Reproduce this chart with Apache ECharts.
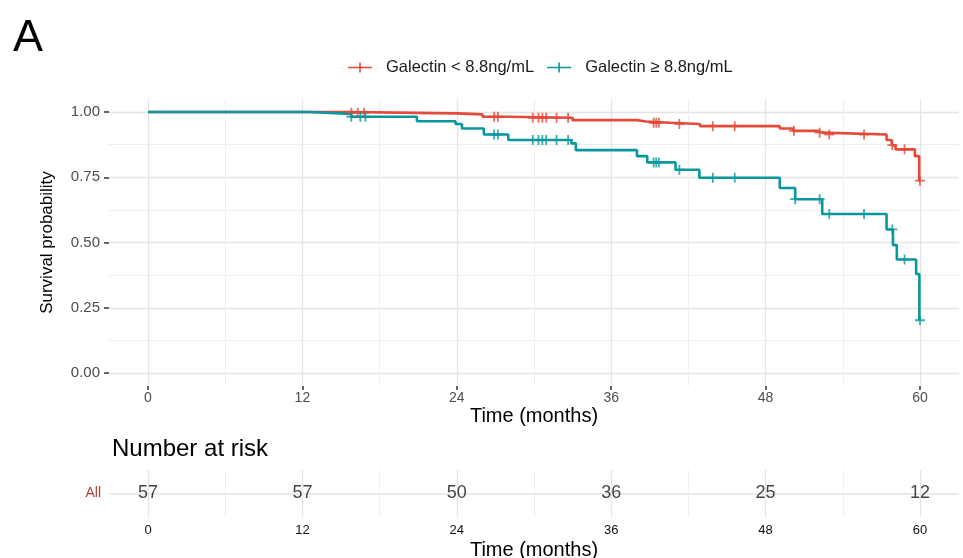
<!DOCTYPE html>
<html><head><meta charset="utf-8">
<script src="https://cdn.jsdelivr.net/npm/echarts@6/dist/echarts.min.js"></script>
<style>html,body{margin:0;padding:0;background:#fff}#c{width:963px;height:558px}</style>
</head><body><div id="c"></div>
<script>
const groupNames = ['Galectin < 8.8ng/mL', 'Galectin \u2265 8.8ng/mL'];
const groupColors = ['#E4493B', '#0A979D'];

// Kaplan-Meier step points (time in months, survival probability)
const lowTimes = [0, 15.7, 20.9, 24.0, 26.0, 28.0, 33.0, 38.0, 38.7, 40.6, 42.9, 49.1, 50.15, 52.1, 52.4, 57.4, 57.8, 58.1, 59.6, 59.94, 60];
const lowSurv  = [1.0, 0.997, 0.995, 0.991, 0.982, 0.978, 0.969, 0.964, 0.959, 0.954, 0.946, 0.937, 0.928, 0.921, 0.914, 0.893, 0.873, 0.857, 0.831, 0.737, 0.737];
const highTimes = [0, 12.46, 15.8, 20.9, 23.9, 24.4, 26.1, 28.0, 32.9, 33.25, 38.0, 38.8, 41.0, 42.85, 49.1, 50.3, 52.4, 57.4, 57.9, 58.2, 59.7, 59.95, 60];
const highSurv  = [1.0, 0.993, 0.982, 0.965, 0.954, 0.937, 0.914, 0.893, 0.880, 0.854, 0.831, 0.807, 0.779, 0.748, 0.709, 0.666, 0.609, 0.550, 0.490, 0.435, 0.379, 0.202, 0.202];

// censoring times
const lowCensor  = [15.8, 16.3, 16.8, 26.9, 27.2, 29.9, 30.35, 30.65, 30.95, 31.75, 32.65, 39.3, 39.5, 39.7, 41.3, 43.9, 45.6, 50.2, 52.2, 52.95, 55.65, 57.85, 58.8, 60];
const highCensor = [15.8, 16.5, 16.9, 26.9, 27.2, 29.9, 30.35, 30.65, 30.95, 31.75, 32.65, 39.3, 39.5, 39.7, 41.3, 43.9, 45.6, 50.3, 52.2, 52.95, 55.65, 57.85, 58.8, 60];

// axis ticks
const timeTicks = [0, 12, 24, 36, 48, 60];
const survTicks = [0, 0.25, 0.5, 0.75, 1];

// number at risk
const riskLabel = 'All';
const riskTimes = [0, 12, 24, 36, 48, 60];
const riskCounts = [57, 57, 50, 36, 25, 12];

function stepAt(times, surv, t) {
  let v = surv[0];
  for (let i = 0; i < times.length; i++) { if (times[i] <= t) v = surv[i]; }
  return v;
}
const FONT = 'Liberation Sans, Arial, Helvetica, sans-serif';
const plusPath = 'path://M-1,-0.18H1V0.18H-1Z M-0.18,-1H0.18V1H-0.18Z';
const legendIcon = 'path://M0,4.2H24V5.8H0Z M11.2,0H12.8V10H11.2Z';
const gridMajor = { color: '#e4e4e4', width: 1.3 };
const gridMinor = { color: '#eeeeee', width: 1 };

const chart = echarts.init(document.getElementById('c'));
chart.setOption({
  backgroundColor: '#fff',
  animation: false,
  textStyle: { fontFamily: FONT },
  title: [
    { text: 'A', left: 8, top: 11, textStyle: { fontSize: 45, fontWeight: 'normal', color: '#000', fontFamily: FONT } },
    { text: 'Number at risk', left: 107, top: 432, textStyle: { fontSize: 24, fontWeight: 'normal', color: '#000', fontFamily: FONT } }
  ],
  legend: {
    left: 343, top: 54, itemWidth: 24, itemHeight: 10, itemGap: 13,
    data: [
      { name: groupNames[0], icon: legendIcon },
      { name: groupNames[1], icon: legendIcon }
    ],
    textStyle: { fontSize: 16.5, color: '#1a1a1a', fontFamily: FONT, padding: [0, 0, 0, 9] }
  },
  grid: [
    { left: 148, width: 772, top: 99, height: 287, outerBoundsMode: 'none', containLabel: false },
    { left: 109, width: 850, top: 112, height: 261, outerBoundsMode: 'none', containLabel: false },
    { left: 148, width: 772, top: 470, height: 47, outerBoundsMode: 'none', containLabel: false },
    { left: 109, width: 850, top: 470, height: 47, outerBoundsMode: 'none', containLabel: false }
  ],
  xAxis: [
    { type: 'value', gridIndex: 0, min: timeTicks[0], max: timeTicks[timeTicks.length - 1], interval: 12,
      axisLine: { show: false, onZero: false },
      axisTick: { show: true, length: 4, lineStyle: { color: '#333', width: 1.5 } },
      axisLabel: { fontSize: 14, color: '#4d4d4d', margin: 5, fontFamily: FONT },
      splitLine: { show: true, lineStyle: gridMajor },
      minorTick: { show: false, splitNumber: 2 },
      minorSplitLine: { show: true, lineStyle: gridMinor },
      name: 'Time (months)', nameLocation: 'middle', nameGap: 20, nameMoveOverlap: false,
      nameTextStyle: { fontSize: 20, color: '#000', fontFamily: FONT } },
    { type: 'value', gridIndex: 1, min: 0, max: 1, show: false },
    { type: 'value', gridIndex: 2, min: timeTicks[0], max: timeTicks[timeTicks.length - 1], interval: 12,
      axisLine: { show: false, onZero: false },
      axisTick: { show: false },
      axisLabel: { fontSize: 13, color: '#111', margin: 7, fontFamily: FONT },
      splitLine: { show: true, lineStyle: gridMajor },
      minorTick: { show: false, splitNumber: 2 },
      minorSplitLine: { show: true, lineStyle: gridMinor },
      name: 'Time (months)', nameLocation: 'middle', nameGap: 23, nameMoveOverlap: false,
      nameTextStyle: { fontSize: 20, color: '#000', fontFamily: FONT } },
    { type: 'value', gridIndex: 3, min: 0, max: 1, show: false }
  ],
  yAxis: [
    { type: 'value', gridIndex: 0, min: -0.05, max: 1.05, show: false },
    { type: 'value', gridIndex: 1, min: survTicks[0], max: survTicks[survTicks.length - 1], interval: 0.25,
      axisLine: { show: false, onZero: false },
      axisTick: { show: true, length: 5, lineStyle: { color: '#333', width: 1.5 } },
      axisLabel: { fontSize: 15, color: '#4d4d4d', margin: 9, fontFamily: FONT, formatter: v => v.toFixed(2) },
      splitLine: { show: true, lineStyle: gridMajor },
      minorTick: { show: false, splitNumber: 2 },
      minorSplitLine: { show: true, lineStyle: gridMinor },
      name: 'Survival probability', nameLocation: 'middle', nameGap: 53, nameRotate: 90,
      nameTextStyle: { fontSize: 17, color: '#000', fontFamily: FONT } },
    { type: 'value', gridIndex: 2, min: -1, max: 1, show: false },
    { type: 'value', gridIndex: 3, min: -1, max: 1, interval: 1,
      axisLine: { show: false, onZero: false }, axisTick: { show: false },
      axisLabel: { fontSize: 14, color: '#B23A2E', margin: 8, fontFamily: FONT, formatter: v => (v === 0 ? riskLabel : '') },
      splitLine: { show: true, lineStyle: { color: ['rgba(0,0,0,0)', '#e4e4e4', 'rgba(0,0,0,0)'], width: 1.5 } } }
  ],
  series: [
    { name: groupNames[0], type: 'line', xAxisIndex: 0, yAxisIndex: 0, step: 'end', showSymbol: false, symbol: 'none',
      clip: false, color: groupColors[0], lineStyle: { color: groupColors[0], width: 2.6 },
      data: lowTimes.map((t, i) => [t, lowSurv[i]]) },
    { name: groupNames[1], type: 'line', xAxisIndex: 0, yAxisIndex: 0, step: 'end', showSymbol: false, symbol: 'none',
      clip: false, color: groupColors[1], lineStyle: { color: groupColors[1], width: 2.6 },
      data: highTimes.map((t, i) => [t, highSurv[i]]) },
    { name: 'censorLow', type: 'scatter', xAxisIndex: 0, yAxisIndex: 0, clip: false,
      symbol: plusPath, symbolSize: 10, itemStyle: { color: groupColors[0] }, z: 3,
      data: lowCensor.map(t => [t, stepAt(lowTimes, lowSurv, t)]) },
    { name: 'censorHigh', type: 'scatter', xAxisIndex: 0, yAxisIndex: 0, clip: false,
      symbol: plusPath, symbolSize: 10, itemStyle: { color: groupColors[1] }, z: 4,
      data: highCensor.map(t => [t, stepAt(highTimes, highSurv, t)]) },
    { name: 'risk', type: 'scatter', xAxisIndex: 2, yAxisIndex: 2, clip: false,
      symbol: 'circle', symbolSize: 1, itemStyle: { color: 'rgba(0,0,0,0)' },
      label: { show: true, position: 'inside', align: 'center', verticalAlign: 'middle',
               formatter: p => String(p.value[2]), fontSize: 18, color: '#111', fontFamily: FONT },
      data: riskTimes.map((t, i) => [t, 0, riskCounts[i]]) }
  ]
});
</script>
</body></html>
